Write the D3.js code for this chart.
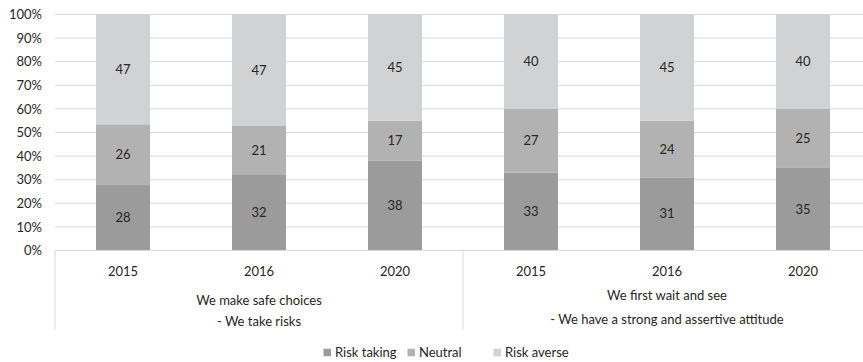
<!DOCTYPE html>
<html>
<head>
<meta charset="utf-8">
<script src="https://cdn.jsdelivr.net/npm/d3@7"></script>
<style>
  html, body { margin: 0; padding: 0; background: #fff; }
  svg { display: block; font-family: Lato, "Open Sans", sans-serif; }
</style>
</head>
<body>
<svg id="chart" width="863" height="362"></svg>
<script>
// Survey answers per year, grouped by statement pair
const groups = [
  ["We make safe choices", "- We take risks"],
  ["We first wait and see", "- We have a strong and assertive attitude"]
];
const years = ["2015", "2016", "2020"];
const seriesNames = ["Risk taking", "Neutral", "Risk averse"];
const riskTaking = [28, 32, 38, 33, 31, 35];
const neutral    = [26, 21, 17, 27, 24, 25];
const riskAverse = [47, 47, 45, 40, 45, 40];
const yTicks = [0, 0.1, 0.2, 0.3, 0.4, 0.5, 0.6, 0.7, 0.8, 0.9, 1];

const colors = ["#9b9b9b", "#b2b2b2", "#d1d2d4"];
const textColor = "#262626";
const gridColor = "#d9d9d9";

const rows = [];
groups.forEach((g, gi) => years.forEach((yr, yi) => {
  const i = gi * years.length + yi;
  rows.push({ key: gi + "-" + yr, group: gi, year: yr,
    "Risk taking": riskTaking[i], "Neutral": neutral[i], "Risk averse": riskAverse[i] });
}));

const svg = d3.select("#chart");
const plot = { left: 55, top: 14.5, bottom: 250.5 };
const band = 136;
const plotRight = plot.left + band * rows.length;

const x = d3.scaleBand().domain(rows.map(d => d.key))
  .range([plot.left, plotRight]).paddingInner(0.603).paddingOuter(0.3015);
const y = d3.scaleLinear().domain([0, 1]).range([plot.bottom, plot.top]);

// Horizontal gridlines
svg.append("g").selectAll("line").data(yTicks.slice(1)).join("line")
  .attr("x1", plot.left).attr("x2", plotRight)
  .attr("y1", d => y(d)).attr("y2", d => y(d))
  .attr("stroke", gridColor).attr("stroke-width", 1);

// Y axis labels
const yAxis = d3.axisLeft(y).tickValues(yTicks).tickFormat(d3.format(".0%")).tickSize(0).tickPadding(0);
const yg = svg.append("g").attr("transform", `translate(${plot.left - 13},0)`).call(yAxis);
yg.select(".domain").remove();
yg.selectAll("text").attr("fill", textColor).style("font-size", "13px").style("font-family", "Lato, sans-serif");

// 100% stacked bars
const stack = d3.stack().keys(seriesNames).offset(d3.stackOffsetExpand);
const layers = stack(rows);
const lg = svg.append("g").selectAll("g").data(layers).join("g")
  .attr("fill", (d, i) => colors[i]);
lg.selectAll("rect").data(d => d).join("rect")
  .attr("x", d => x(d.data.key)).attr("width", x.bandwidth())
  .attr("y", d => y(d[1])).attr("height", d => y(d[0]) - y(d[1]));

// Value labels
layers.forEach(layer => {
  svg.append("g").selectAll("text").data(layer).join("text")
    .attr("x", d => x(d.data.key) + x.bandwidth() / 2)
    .attr("y", d => (y(d[0]) + y(d[1])) / 2)
    .attr("dy", "0.35em").attr("text-anchor", "middle")
    .attr("fill", textColor).style("font-size", "13px")
    .text(d => d.data[layer.key]);
});

// Category axis: baseline and group separators
const axisG = svg.append("g");
axisG.append("line").attr("x1", plot.left).attr("x2", plotRight)
  .attr("y1", plot.bottom).attr("y2", plot.bottom)
  .attr("stroke", gridColor);
const seps = d3.range(groups.length + 1).map(i => plot.left + i * band * years.length);
axisG.selectAll("line.sep").data(seps).join("line").attr("class", "sep")
  .attr("x1", d => d).attr("x2", d => d)
  .attr("y1", plot.bottom).attr("y2", 329.5)
  .attr("stroke", gridColor);

// Year labels
axisG.selectAll("text.year").data(rows).join("text").attr("class", "year")
  .attr("x", d => x(d.key) + x.bandwidth() / 2).attr("y", 271.5)
  .attr("dy", "0.35em").attr("text-anchor", "middle")
  .attr("fill", textColor).style("font-size", "13px").text(d => d.year);

// Group labels (two lines each)
const lineY = [[300.5, 321], [295, 319.5]];
groups.forEach((g, gi) => {
  const cx = plot.left + band * years.length * (gi + 0.5);
  g.forEach((t, li) => {
    axisG.append("text").attr("x", cx).attr("y", lineY[gi][li])
      .attr("dy", "0.35em").attr("text-anchor", "middle")
      .attr("fill", textColor).style("font-size", "13px").text(t);
  });
});

// Legend
const legendX = [323.5, 407.5, 493.5];
const leg = svg.append("g").selectAll("g").data(seriesNames).join("g")
  .attr("transform", (d, i) => `translate(${legendX[i]},352.5)`);
leg.append("rect").attr("x", 0).attr("y", -3.75).attr("width", 7.5).attr("height", 7.5)
  .attr("fill", (d, i) => colors[i]);
leg.append("text").attr("x", 11.5).attr("dy", "0.35em")
  .attr("fill", textColor).style("font-size", "13px").text(d => d);
</script>
</body>
</html>
